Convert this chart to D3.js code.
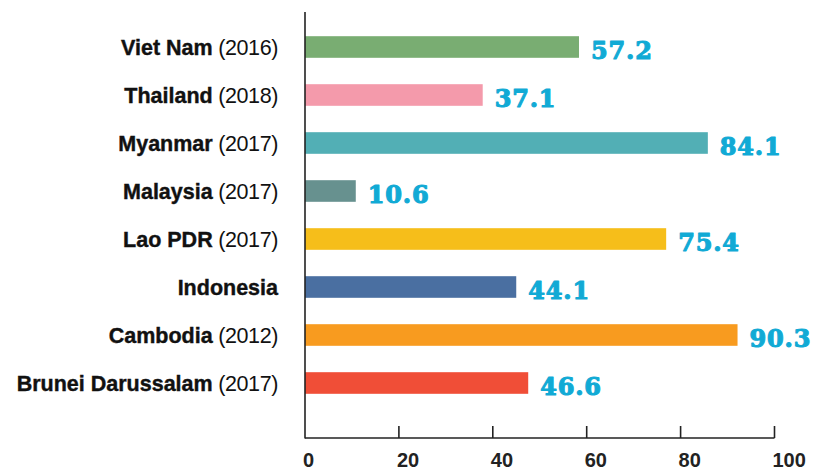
<!DOCTYPE html>
<html><head><meta charset="utf-8">
<script src="https://cdn.jsdelivr.net/npm/d3@7"></script>
<style>body{margin:0;background:#fff}</style>
</head><body>
<svg id="c" width="823" height="468"></svg>
<script>
const countries = ["Viet Nam","Thailand","Myanmar","Malaysia","Lao PDR","Indonesia","Cambodia","Brunei Darussalam"];
const years = ["(2016)","(2018)","(2017)","(2017)","(2017)","","(2012)","(2017)"];
const values = [57.2,37.1,84.1,10.6,75.4,44.1,90.3,46.6];
const colors = ["#79ad72","#f49aab","#52afb5","#67918f","#f6be1a","#4a6fa1","#f89b1f","#f04e37"];
const ticks = [0,20,40,60,80,100];

const svg = d3.select("#c");
const x0 = 305;
const xAxisScale = d3.scaleLinear().domain([0,100]).range([x0,774.5]);
const xBar = d3.scaleLinear().domain([0,100]).range([x0,784]);
const y = d3.scaleBand().domain(countries).range([23,407]).paddingInner(0.55).paddingOuter(0.275);

// bars
svg.selectAll("rect.bar").data(values).join("rect")
  .attr("x", x0).attr("y",(d,i)=>y(countries[i]))
  .attr("width", d=>xBar(d)-x0).attr("height", y.bandwidth())
  .attr("fill",(d,i)=>colors[i]);

// value labels
svg.selectAll("text.val").data(values).join("text")
  .attr("x", d=>xBar(d)+12).attr("y",(d,i)=>y(countries[i])+y.bandwidth()+1)
  .attr("font-family","'DejaVu Serif'").attr("font-weight","bold").attr("font-size",24)
  .attr("letter-spacing",0.8)
  .attr("stroke","#11aad5").attr("stroke-width",1.1).attr("stroke-linejoin","round")
  .attr("fill","#11aad5").text(d=>d.toFixed(1));

// category labels
const lab = svg.selectAll("text.cat").data(countries).join("text")
  .attr("x",278).attr("y",d=>y(d)+y.bandwidth()/2+8)
  .attr("text-anchor","end").attr("font-family","'Liberation Sans'")
  .attr("font-size",21.5).attr("fill","#111");
lab.append("tspan").attr("font-weight","bold").attr("stroke","#111").attr("stroke-width",0.4).text(d=>d);
lab.append("tspan").attr("letter-spacing",-0.4).text((d,i)=>years[i] ? " "+years[i] : "");

// axes
const ax = svg.append("g").attr("stroke","#222").attr("stroke-width",1.6);
ax.append("line").attr("x1",x0).attr("x2",x0).attr("y1",12).attr("y2",438.5);
ax.append("line").attr("x1",x0).attr("x2",xAxisScale(100)).attr("y1",438).attr("y2",438);
ax.selectAll("line.t").data(ticks.slice(1)).join("line")
  .attr("x1",d=>xAxisScale(d)).attr("x2",d=>xAxisScale(d)).attr("y1",426).attr("y2",438);
svg.selectAll("text.tick").data(ticks).join("text")
  .attr("x",d=>xAxisScale(d)-2).attr("y",467)
  .attr("font-family","'Liberation Sans'").attr("font-weight","bold").attr("font-size",20)
  .attr("fill","#222").text(d=>d);
</script>
</body></html>
